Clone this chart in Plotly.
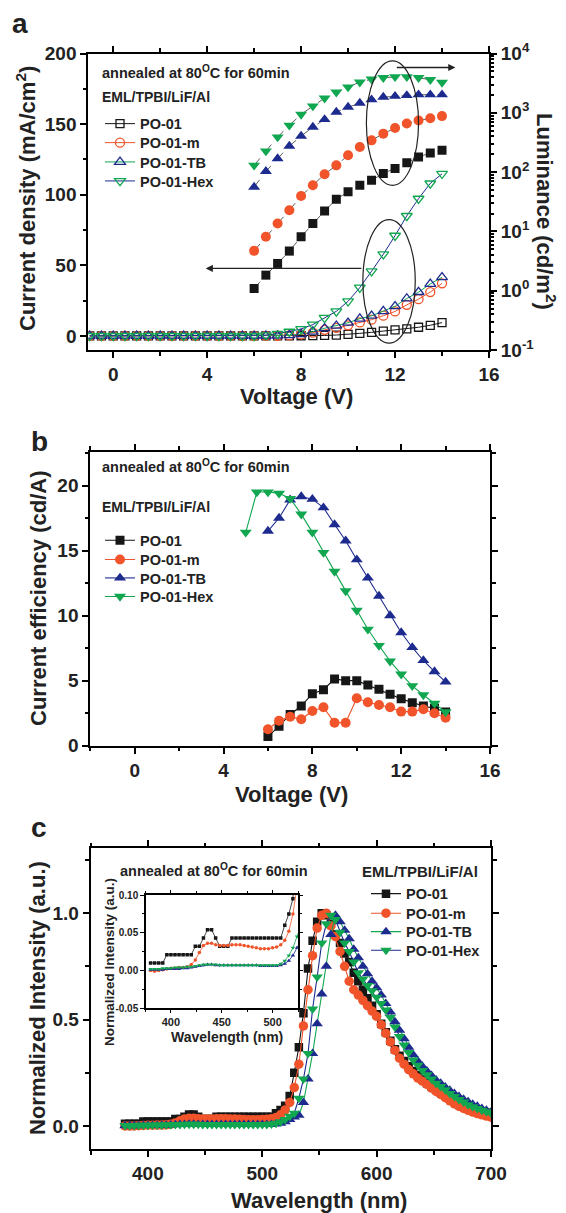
import plotly.graph_objects as go

# reference canvas is 566x1213; the page body adds an 8px margin, so the figure
# is drawn 8px smaller and all layout positions are shifted by that offset.
REF_W, REF_H = 566, 1213
OFF = 8
W, H = REF_W - OFF, REF_H - OFF
FONT = "Liberation Sans, Arial, Helvetica, sans-serif"
BLACK = "#161616"
RED = "#f1542a"
BLUE = "#1e2b8e"
GREEN = "#11a650"
TXT = "#222222"

# ---------------- Panel a data ----------------
volt_j = [-1, -0.5, 0, 0.5, 1, 1.5, 2, 2.5, 3, 3.5, 4, 4.5, 5, 5.5, 6, 6.5,
          7, 7.5, 8, 8.5, 9, 9.5, 10, 10.5, 11, 11.5, 12, 12.5, 13, 13.5, 14]
j_po01 = [0, 0, 0, 0, 0, 0, 0, 0, 0, 0, 0, 0, 0, 0, 0, 0,
          0, 0, 0.1, 0.2, 0.3, 0.6, 1.0, 1.8, 2.5, 3.4, 4.2, 5.0, 6.1, 7.5, 9.4]
j_po01m = [0, 0, 0, 0, 0, 0, 0, 0, 0, 0, 0, 0, 0, 0, 0, 0,
           0.1, 0.3, 1.0, 2.3, 4.3, 5.6, 7.5, 9.5, 11.5, 14.3, 17.3, 22.0, 26.0, 31.0, 37.2]
j_po01tb = [0, 0, 0, 0, 0, 0, 0, 0, 0, 0, 0, 0, 0, 0, 0, 0,
            0.2, 0.5, 1.2, 3.0, 5.4, 7.2, 9.3, 12.2, 14.2, 17.5, 21.0, 26.5, 31.0, 36.8, 41.5]
j_po01hex = [0, 0, 0, 0, 0, 0, 0, 0, 0, 0, 0, 0, 0, 0, 0, 0.5,
             1.5, 3.0, 4.9, 8.0, 12.8, 17.4, 24.5, 34.2, 45.8, 57.8, 71.0, 85.0, 97.2, 108.0, 114.8]

volt_l = [6, 6.5, 7, 7.5, 8, 8.5, 9, 9.5, 10, 10.5, 11, 11.5, 12, 12.5, 13, 13.5, 14]
lum_po01 = [1.09, 1.83, 2.88, 4.65, 8.1, 13.6, 22.1, 34.8, 46.6, 60, 72.8, 94.4, 115, 144, 180, 210, 233]
lum_po01m = [4.7, 8.1, 13.6, 22.7, 39.6, 60, 92, 130, 192, 265, 343, 445, 553, 660, 740, 810, 880]
lum_po01tb = [56, 103, 169, 275, 405, 574, 774, 1028, 1247, 1457, 1662, 1838, 1909, 1963, 2017, 2017, 2017]
lum_po01hex = [130, 226, 390, 614, 940, 1297, 1767, 2230, 2710, 3290, 3690, 3900, 4050, 4050, 3900, 3610, 3250]

# ---------------- Panel b data ----------------
volt_ce = [6, 6.5, 7, 7.5, 8, 8.5, 9, 9.5, 10, 10.5, 11, 11.5, 12, 12.5, 13, 13.5, 14]
volt_ce_hex = [5, 5.5, 6, 6.5, 7, 7.5, 8, 8.5, 9, 9.5, 10, 10.5, 11, 11.5, 12, 12.5, 13, 13.5, 14]
ce_po01 = [0.7, 1.5, 2.4, 3.05, 4.0, 4.3, 5.13, 5.0, 5.0, 4.67, 4.33, 3.95, 3.6, 3.3, 3.05, 2.87, 2.6]
ce_po01m = [1.26, 1.92, 2.23, 2.03, 2.67, 2.95, 1.77, 1.77, 3.65, 3.34, 3.13, 2.95, 2.62, 2.62, 2.8, 2.5, 2.15]
ce_po01tb = [16.5, 17.5, 18.9, 19.15, 18.95, 18.3, 17.0, 15.75, 14.3, 12.9, 11.5, 10.0, 8.7, 7.55, 6.55, 5.7, 4.9]
ce_po01hex = [16.4, 19.5, 19.5, 19.4, 19.0, 17.8, 16.4, 14.85, 13.4, 11.9, 10.4, 8.95, 7.7, 6.5, 5.5,
              4.6, 3.9, 3.26, 2.6]

# ---------------- Panel c data ----------------
wavelength = [380, 384, 388, 392, 396, 400, 404, 408, 412, 416, 420, 424, 428, 432, 436, 440,
              444, 448, 452, 456, 460, 464, 468, 472, 476, 480, 484, 488, 492, 496, 500, 504,
              508, 512, 516, 520, 524, 528, 532, 536, 540, 544, 548, 552, 556, 560, 564, 568,
              572, 576, 580, 584, 588, 592, 596, 600, 604, 608, 612, 616, 620, 624, 628, 632,
              636, 640, 644, 648, 652, 656, 660, 664, 668, 672, 676, 680, 684, 688, 692, 696, 700]
el_po01 = [0.010, 0.010, 0.010, 0.010, 0.021, 0.021, 0.021, 0.021, 0.021, 0.021, 0.021,
           0.032, 0.032, 0.043, 0.054, 0.054, 0.043, 0.032, 0.032, 0.032,
           0.043, 0.043, 0.043, 0.043, 0.043, 0.043, 0.043, 0.043, 0.043, 0.043, 0.043, 0.043, 0.043,
           0.060, 0.075, 0.095, 0.140, 0.250, 0.370, 0.530, 0.740, 0.870, 0.960, 1.000, 0.990,
           0.950, 0.900, 0.860, 0.810, 0.770, 0.720, 0.680, 0.640, 0.600, 0.565,
           0.525, 0.480, 0.440, 0.400, 0.360, 0.330, 0.305, 0.280, 0.258, 0.238,
           0.218, 0.200, 0.185, 0.170, 0.157, 0.143, 0.128, 0.113, 0.100, 0.090,
           0.083, 0.077, 0.071, 0.066, 0.062, 0.058]
el_po01m = [0.000, -0.001, 0.000, 0.001, 0.002, 0.003, 0.003, 0.004, 0.004, 0.005, 0.008,
            0.014, 0.024, 0.033, 0.036, 0.036, 0.034, 0.033, 0.033, 0.033,
            0.034, 0.034, 0.034, 0.033, 0.032, 0.031, 0.030, 0.029, 0.029, 0.029, 0.030, 0.031, 0.034,
            0.040, 0.052, 0.075, 0.110, 0.180, 0.290, 0.470, 0.640, 0.800, 0.930, 0.990, 1.000,
            0.940, 0.890, 0.820, 0.750, 0.680, 0.640, 0.615, 0.590, 0.565, 0.540,
            0.515, 0.475, 0.435, 0.395, 0.355, 0.318, 0.290, 0.265, 0.245, 0.225,
            0.210, 0.195, 0.178, 0.162, 0.148, 0.133, 0.118, 0.104, 0.092, 0.082,
            0.073, 0.065, 0.058, 0.052, 0.046, 0.041]
el_po01tb = [0.001, 0.001, 0.001, 0.001, 0.002, 0.002, 0.002, 0.002, 0.003, 0.003, 0.004,
             0.005, 0.006, 0.007, 0.008, 0.008, 0.007, 0.007, 0.007, 0.007,
             0.007, 0.007, 0.007, 0.007, 0.007, 0.007, 0.007, 0.006, 0.006, 0.006, 0.006, 0.006, 0.007,
             0.009, 0.013, 0.020, 0.030, 0.042, 0.050, 0.110, 0.220, 0.340, 0.480, 0.620, 0.750,
             0.900, 0.990, 0.960, 0.920, 0.880, 0.830, 0.790, 0.750, 0.715, 0.680,
             0.650, 0.615, 0.575, 0.535, 0.490, 0.450, 0.410, 0.370, 0.335, 0.305,
             0.280, 0.258, 0.237, 0.216, 0.200, 0.183, 0.168, 0.152, 0.138, 0.125,
             0.113, 0.102, 0.092, 0.082, 0.073, 0.065]
el_po01hex = [0.002, 0.002, 0.002, 0.003, 0.003, 0.003, 0.004, 0.004, 0.004, 0.005, 0.005,
              0.006, 0.007, 0.008, 0.008, 0.008, 0.008, 0.007, 0.007, 0.007,
              0.007, 0.007, 0.007, 0.007, 0.007, 0.007, 0.007, 0.007, 0.007, 0.007, 0.007, 0.007, 0.009,
              0.013, 0.020, 0.030, 0.045, 0.060, 0.130, 0.220, 0.340, 0.550, 0.700, 0.860, 0.950,
              0.990, 0.970, 0.910, 0.860, 0.820, 0.770, 0.720, 0.690, 0.660, 0.635,
              0.605, 0.575, 0.545, 0.510, 0.465, 0.420, 0.380, 0.345, 0.310, 0.285,
              0.260, 0.240, 0.220, 0.200, 0.185, 0.170, 0.152, 0.138, 0.124, 0.112,
              0.100, 0.090, 0.082, 0.074, 0.067, 0.060]

series_names = ["PO-01", "PO-01-m", "PO-01-TB", "PO-01-Hex"]
marker_colors = [BLACK, RED, BLUE, GREEN]

# tick labels
volt_ticks = [0, 4, 8, 12, 16]
jd_ticks = [0, 50, 100, 150, 200]
lum_ticks = [0.1, 1, 10, 100, 1000, 10000]
lum_tick_text = ["10<sup>-1</sup>", "10<sup>0</sup>", "10<sup>1</sup>", "10<sup>2</sup>",
                 "10<sup>3</sup>", "10<sup>4</sup>"]
ce_ticks = [0, 5, 10, 15, 20]
wl_ticks = [400, 500, 600, 700]
int_ticks = [0, 0.5, 1.0]
int_tick_text = ["0.0", "0.5", "1.0"]
inset_wl_ticks = [400, 450, 500]
inset_int_ticks = [-0.05, 0, 0.05, 0.10]
inset_int_text = ["-0.05", "0.00", "0.05", "0.10"]


# ---------------- helpers ----------------
def pxx(x):
    return (x - OFF) / W


def pyy(y):
    return 1 - (y - OFF) / H


def fnt(size, weight="bold", color=TXT):
    return dict(family=FONT, size=size, color=color, weight=weight)


def bold(labels):
    return ["<b>%s</b>" % t for t in labels]


def axis(vals, text=None, **kw):
    if text is None:
        text = [str(v) for v in vals]
    d = dict(showline=True, linewidth=2, linecolor="black", ticks="outside", ticklen=6,
             tickwidth=1.5, tickcolor="black", showgrid=False, zeroline=False, automargin=False,
             tickfont=fnt(19), tickmode="array", tickvals=vals, ticktext=bold(text))
    d.update(kw)
    return d


def minor(dtick=None, tickvals=None, ticklen=3.5, tickwidth=1.5):
    m = dict(ticks="outside", ticklen=ticklen, tickwidth=tickwidth, tickcolor="black", showgrid=False)
    if dtick is not None:
        m["dtick"] = dtick
    if tickvals is not None:
        m["tickvals"] = tickvals
    return m


# one single-entry legend per series and panel, so that entries sit where the reference puts them
legend_text_x = [141, 141, 407]
legend_centers = [[122.7, 141.7, 161, 180], [539.3, 558.5, 577, 595.5], [892.7, 912.3, 930.7, 949.3]]
legends = {}
for p in range(3):
    for i in range(4):
        k = p * 4 + i + 1
        key = "legend" if k == 1 else "legend%d" % k
        legends[key] = dict(x=pxx(legend_text_x[p] - 41), y=pyy(legend_centers[p][i] - 15),
                            xanchor="left", yanchor="top", font=fnt(14.5),
                            bgcolor="rgba(0,0,0,0)", itemwidth=30)


def legend_name(p, i):
    k = p * 4 + i + 1
    return "legend" if k == 1 else "legend%d" % k


fig = go.Figure()

# ---- panel a: current density (open symbols) ----
j_series = [j_po01, j_po01m, j_po01tb, j_po01hex]
open_syms = ["square-open", "circle-open", "triangle-up-open", "triangle-down-open"]
j_line_colors = [BLACK, RED, GREEN, BLUE]
j_sizes = [8, 9, 9.5, 9.5]
for i, (name, ys, sym, mc, lc, sz) in enumerate(zip(series_names, j_series, open_syms, marker_colors,
                                                    j_line_colors, j_sizes)):
    fig.add_trace(go.Scatter(x=volt_j, y=ys, mode="lines+markers", name=name,
                             marker=dict(symbol=sym, size=sz, color=mc, line=dict(width=1.3, color=mc)),
                             line=dict(color=lc, width=1), xaxis="x", yaxis="y", legend=legend_name(0, i)))

# ---- panel a: luminance (filled symbols) ----
l_series = [lum_po01, lum_po01m, lum_po01tb, lum_po01hex]
fill_syms = ["square", "circle", "triangle-up", "triangle-down"]
l_sizes = [9, 10, 10.5, 10.5]
for name, ys, sym, mc, sz in zip(series_names, l_series, fill_syms, marker_colors, l_sizes):
    fig.add_trace(go.Scatter(x=volt_l, y=ys, mode="lines+markers", name=name + " L", showlegend=False,
                             marker=dict(symbol=sym, size=sz, color=mc, line=dict(width=0)),
                             line=dict(color="#333333", width=0.8, dash="dash"), xaxis="x", yaxis="y2"))

# ---- panel b: current efficiency ----
ce_x = [volt_ce, volt_ce, volt_ce, volt_ce_hex]
ce_series = [ce_po01, ce_po01m, ce_po01tb, ce_po01hex]
ce_sizes = [9, 10, 10.5, 10.5]
for i, (name, xs, ys, sym, mc, sz) in enumerate(zip(series_names, ce_x, ce_series, fill_syms,
                                                    marker_colors, ce_sizes)):
    fig.add_trace(go.Scatter(x=xs, y=ys, mode="lines+markers", name=name,
                             marker=dict(symbol=sym, size=sz, color=mc, line=dict(width=0)),
                             line=dict(color=mc, width=1.1), xaxis="x2", yaxis="y3",
                             legend=legend_name(1, i)))

# ---- panel c: EL spectra ----
el_series = [el_po01, el_po01m, el_po01tb, el_po01hex]
el_line_colors = [BLACK, RED, GREEN, BLUE]
el_sizes = [8.5, 9.5, 10, 10]
for i, (name, ys, sym, mc, lc, sz) in enumerate(zip(series_names, el_series, fill_syms, marker_colors,
                                                    el_line_colors, el_sizes)):
    fig.add_trace(go.Scatter(x=wavelength, y=ys, mode="lines+markers", name=name,
                             marker=dict(symbol=sym, size=sz, color=mc, line=dict(width=0)),
                             line=dict(color=lc, width=1.1), xaxis="x3", yaxis="y4",
                             legend=legend_name(2, i)))
# inset
inset_sizes = [3.5, 3.5, 4, 4]
for name, ys, sym, mc, lc, sz in zip(series_names, el_series, fill_syms, marker_colors, el_line_colors,
                                     inset_sizes):
    fig.add_trace(go.Scatter(x=wavelength, y=ys, mode="lines+markers", name=name, showlegend=False,
                             marker=dict(symbol=sym, size=sz, color=mc, line=dict(width=0)),
                             line=dict(color=mc, width=0.8), xaxis="x4", yaxis="y5"))

# ---------------- axes ----------------
log_minor = [m * 10 ** e for e in range(-1, 4) for m in range(2, 10)]

layout = dict(
    width=W, height=H, margin=dict(l=0, r=0, t=0, b=0, autoexpand=False),
    paper_bgcolor="white", plot_bgcolor="rgba(0,0,0,0)",
    font=fnt(14),
    xaxis=axis(volt_ticks, domain=[pxx(88.3), pxx(489)], anchor="y", range=[-1.06, 16],
               mirror="ticks", minor=minor(dtick=2)),
    yaxis=axis(jd_ticks, domain=[pyy(350), pyy(53.5)], anchor="x", range=[-10, 200],
               minor=minor(dtick=25)),
    yaxis2=axis(lum_ticks, lum_tick_text, overlaying="y", side="right", anchor="x", type="log",
                range=[-1, 4], minor=minor(tickvals=log_minor, ticklen=3)),
    xaxis2=axis(volt_ticks, domain=[pxx(90.3), pxx(490)], anchor="y3", range=[-2, 16],
                mirror="ticks", minor=minor(dtick=2)),
    yaxis3=axis(ce_ticks, domain=[pyy(745.7), pyy(451.7)], anchor="x2", range=[0, 22.6],
                mirror="ticks", minor=minor(dtick=2.5)),
    xaxis3=axis(wl_ticks, domain=[pxx(90.7), pxx(491)], anchor="y4", range=[350, 700],
                mirror="ticks", minor=minor(dtick=50)),
    yaxis4=axis(int_ticks, int_tick_text, domain=[pyy(1149.3), pyy(848.3)], anchor="x3",
                range=[-0.11, 1.305], mirror="ticks", minor=minor(tickvals=[0.25, 0.75, 1.25])),
    xaxis4=axis(inset_wl_ticks, domain=[pxx(145.5), pxx(298)], anchor="y5", range=[375, 525],
                mirror="ticks", linewidth=1.5, ticklen=3, tickwidth=1,
                tickfont=fnt(11), minor=minor(dtick=25, ticklen=2, tickwidth=1)),
    yaxis5=axis(inset_int_ticks, inset_int_text, domain=[pyy(1008.3), pyy(895)], anchor="x4",
                range=[-0.05, 0.10], mirror="ticks", linewidth=1.5, ticklen=3.5, tickwidth=1,
                tickfont=fnt(10), minor=minor(dtick=0.025, ticklen=2, tickwidth=1)),
)
layout.update(legends)
fig.update_layout(**layout)


# ---------------- annotations ----------------
def txt(x, y, text, size, angle=0, xanchor="center"):
    return dict(x=pxx(x), y=pyy(y), xref="paper", yref="paper", text="<b>%s</b>" % text,
                showarrow=False, font=fnt(size), textangle=angle, xanchor=xanchor, yanchor="middle")


ann_text = "annealed at 80<sup>O</sup>C for 60min"
annotations = [
    txt(20, 24, "a", 28), txt(39, 441, "b", 28), txt(39, 827, "c", 28),
    # panel a
    txt(26, 199, "Current density (mA/cm<sup>2</sup>)", 22, -90),
    txt(546, 211, "Luminance (cd/m<sup>2</sup>)", 22, 90),
    txt(297, 397, "Voltage (V)", 22),
    txt(100, 71.7, ann_text, 14.5, xanchor="left"),
    txt(100, 96.7, "EML/TPBI/LiF/Al", 14, xanchor="left"),
    # panel b
    txt(38, 598, "Current efficiency (cd/A)", 22, -90),
    txt(291, 794, "Voltage (V)", 22),
    txt(100, 465.7, ann_text, 14.5, xanchor="left"),
    txt(100, 507, "EML/TPBI/LiF/Al", 14, xanchor="left"),
    # panel c
    txt(37, 998, "Normalized Intensity (a.u.)", 22, -90),
    txt(319, 1200, "Wavelength (nm)", 22),
    txt(118, 870, ann_text, 14.5, xanchor="left"),
    txt(360, 871, "EML/TPBI/LiF/Al", 15, xanchor="left"),
    txt(109, 962, "Normalized Intensity (a.u.)", 13.5, -90),
    txt(227, 1037, "Wavelength (nm)", 14),
    # arrows in panel a
    dict(x=14.57, y=190.1, ax=12.01, ay=190.1, xref="x", yref="y", axref="x", ayref="y",
         text="", showarrow=True, arrowhead=2, arrowsize=1.1, arrowwidth=1.3, arrowcolor="#222"),
    dict(x=3.94, y=47.8, ax=10.63, ay=47.8, xref="x", yref="y", axref="x", ayref="y",
         text="", showarrow=True, arrowhead=2, arrowsize=1.1, arrowwidth=1.3, arrowcolor="#222"),
]
fig.update_layout(annotations=annotations)

fig.update_layout(shapes=[
    dict(type="circle", xref="x", yref="y", x0=10.78, x1=13.0, y0=106.6, y1=194.8,
         line=dict(color="#222", width=1.2)),
    dict(type="circle", xref="x", yref="y", x0=10.63, x1=12.86, y0=-5.2, y1=82.4,
         line=dict(color="#222", width=1.2)),
])

fig.write_html("out.html")
